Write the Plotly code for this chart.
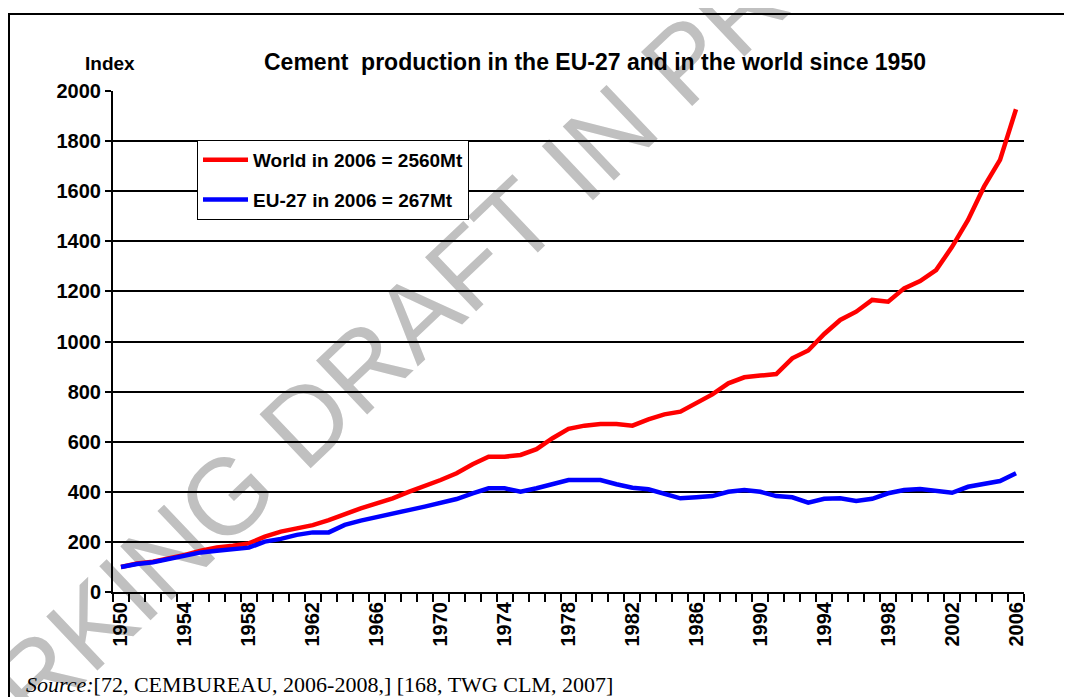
import plotly.graph_objects as go

years = list(range(1950, 2007))
world = [100, 114, 121, 134, 148, 165, 178, 185, 194, 221,
         241, 254, 267, 287, 311, 334, 354, 374, 400, 423,
         447, 474, 510, 540, 540, 547, 570, 614, 651, 664,
         671, 671, 664, 689, 709, 720, 756, 789, 833, 857,
         864, 870, 933, 964, 1030, 1086, 1119, 1166, 1159, 1212,
         1241, 1285, 1378, 1485, 1618, 1725, 1927]
eu27 = [100, 112, 119, 132, 146, 158, 165, 172, 177, 201,
        212, 228, 238, 238, 268, 285, 298, 310, 327, 341,
        358, 371, 394, 414, 414, 400, 414, 430, 447, 447,
        447, 430, 416, 410, 394, 374, 378, 383, 400, 407,
        400, 383, 378, 357, 372, 374, 363, 372, 394, 407,
        411, 403, 396, 420, 431, 443, 474]
tick_years = list(range(1950, 2007, 4))
series_names = ["World in 2006 = 2560Mt", "EU-27 in 2006 = 267Mt"]

OFF = 8  # page body margin
W, H = 1072 - OFF, 697 - OFF
L, R, T, B = 113 - OFF, 48, 91 - OFF, 105
PW, PH = W - L - R, H - T - B


def px(x):
    return (x - OFF - L) / PW


def py(y):
    return (H - B - (y - OFF)) / PH


FONT = "Liberation Sans, Arial, sans-serif"

fig = go.Figure()
fig.add_trace(go.Scatter(x=years, y=world, mode="lines", name=series_names[0],
                         line=dict(color="#ff0000", width=4.5), legendgroup="a"))
fig.add_trace(go.Scatter(x=years, y=eu27, mode="lines", name=series_names[1],
                         line=dict(color="#0000ff", width=4.5), legendgroup="b"))

fig.update_layout(
    width=W, height=H,
    margin=dict(l=L, r=R, t=T, b=B),
    paper_bgcolor="white", plot_bgcolor="white",
    font=dict(family=FONT, color="black", size=19, weight="bold"),
    title=dict(text="Cement  production in the EU-27 and in the world since 1950",
               x=(595 - OFF) / W, xanchor="center", y=1 - (62 - OFF) / H,
               yanchor="middle",
               font=dict(family=FONT, size=23, color="black", weight="bold")),
    showlegend=True,
    legend=dict(x=px(197), y=py(140), xanchor="left", yanchor="top",
                bgcolor="white", bordercolor="black", borderwidth=1,
                font=dict(family=FONT, size=19, color="black", weight="bold"),
                tracegroupgap=12, traceorder="grouped", itemwidth=45),
    xaxis=dict(range=[1949.5, 2006.5], tickmode="array", tickvals=tick_years,
               ticktext=[str(y) for y in tick_years], tickangle=-90,
               ticks="", showgrid=False, zeroline=False,
               showline=True, linecolor="black", linewidth=2,
               tickfont=dict(family=FONT, size=20, color="black", weight="bold"),
               minor=dict(tick0=1949.5, dtick=1, ticks="outside", ticklen=8,
                          tickwidth=2, tickcolor="black", showgrid=False)),
    yaxis=dict(range=[0, 2000], tickmode="linear", tick0=0, dtick=200,
               ticks="outside", ticklen=6, tickwidth=2, tickcolor="black",
               showgrid=True, gridcolor="black", gridwidth=1.5,
               zeroline=False, showline=True, linecolor="black", linewidth=2,
               tickfont=dict(family=FONT, size=20, color="black", weight="bold")),
)

# watermark (below gridlines)
cx, cy = px(482), py(240)
fig.add_shape(type="rect", xref="paper", yref="paper",
              x0=cx - 0.001, x1=cx + 0.001, y0=cy - 0.001, y1=cy + 0.001,
              line=dict(width=0), fillcolor="rgba(0,0,0,0)", layer="below",
              label=dict(text="WORKING DRAFT IN PROGRESS", textangle=-43.5,
                         textposition="middle center",
                         font=dict(family=FONT, size=108, color="#c0c0c0",
                                   weight="normal")))

# outer frame
fig.add_shape(type="rect", xref="paper", yref="paper",
              x0=px(9), x1=px(1100), y0=py(760), y1=py(14),
              line=dict(color="black", width=2), fillcolor="rgba(0,0,0,0)",
              layer="above")

fig.add_annotation(text="Index", xref="paper", yref="paper",
                   x=px(110), y=py(63), xanchor="center", yanchor="middle",
                   showarrow=False,
                   font=dict(family=FONT, size=19, color="black", weight="bold"))
fig.add_annotation(text="<i>Source:</i>[72, CEMBUREAU, 2006-2008,] [168, TWG CLM, 2007]",
                   xref="paper", yref="paper", x=px(24), y=py(684),
                   xanchor="left", yanchor="middle", showarrow=False,
                   font=dict(family="Liberation Serif, Times New Roman, serif",
                             size=22, color="black", weight="normal"))

fig.write_html("out.html")
